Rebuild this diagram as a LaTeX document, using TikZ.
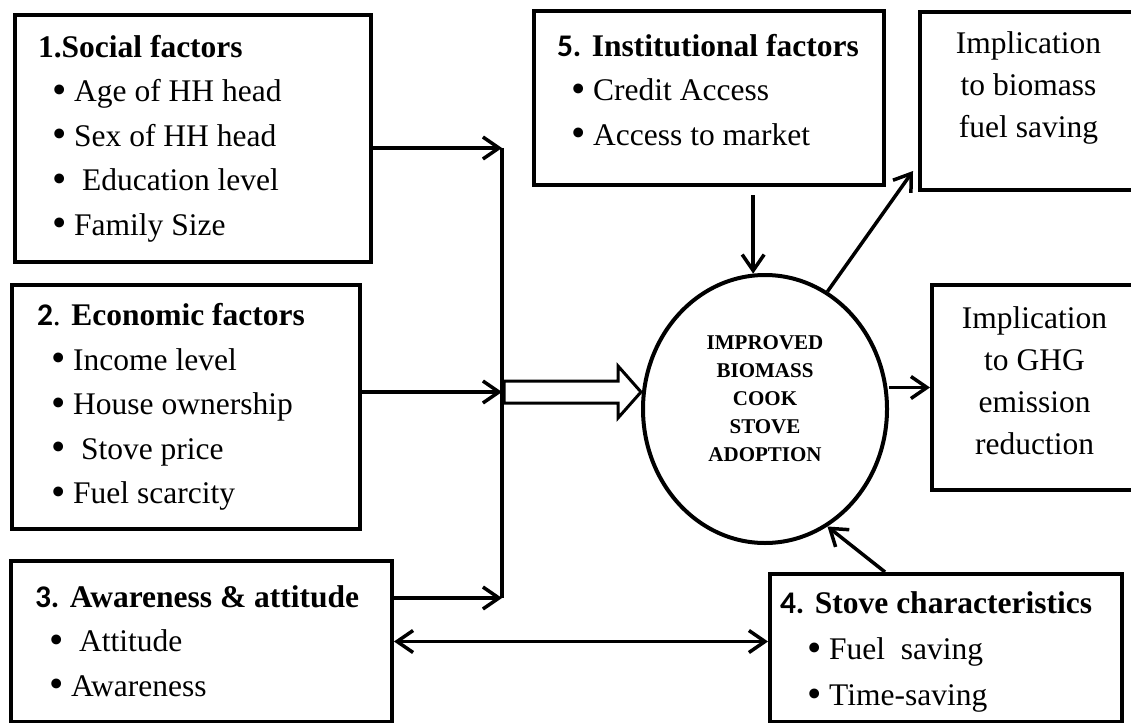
\documentclass[tikz,border=0pt]{standalone}
\usepackage{fontspec}
\usepackage{graphicx}
\setmainfont{Liberation Serif}
\newfontfamily\numfont{Carlito}
\usetikzlibrary{arrows.meta,shapes.geometric,calc}

\newcommand{\itm}[1]{\hspace*{14pt}\raisebox{-1.5pt}{\scalebox{1.3}{\textbullet}}\ #1}
\newcommand{\num}[1]{{\numfont\bfseries #1}}

\begin{document}
\begin{tikzpicture}[x=1pt, y=-1pt,
        >={Straight Barb[length=16pt,width=22pt]},
        factor/.style={draw, rectangle, line width=4pt, anchor=north west,
            align=flush left, inner ysep=0pt,
            font=\fontsize{31.5}{44.5}\selectfont},
        effect/.style={draw, rectangle, line width=4pt, anchor=north west,
            align=center, inner sep=0pt,
            font=\fontsize{31.5}{42}\selectfont},
        link/.style={line width=3.5pt}]
        \useasboundingbox (0,0) rectangle (1131,722);
        \clip (0,0) rectangle (1131,722);

        % factor boxes on the left
        \node[factor, text width=310pt, inner xsep=23pt, minimum height=247pt] (social) at (13,13)
            {\mbox{\textbf{1.Social factors}}\\ \itm{Age of HH head}\\ \itm{Sex of HH head}\\
             \itm{\ Education level}\\ \itm{Family Size}};
        \node[factor, text width=298pt, inner xsep=25pt, minimum height=244pt] (econ) at (10,283)
            {\mbox{\num{2}. \textbf{Economic factors}}\\ \itm{Income level}\\ \itm{House ownership}\\
             \itm{\ Stove price}\\ \itm{Fuel scarcity}};
        \node[factor, text width=333pt, inner xsep=24pt, minimum height=161pt] (aware) at (9,559)
            {\mbox{\num{3.} \textbf{Awareness \& attitude}}\\ \itm{\ Attitude}\\ \itm{Awareness}};

        % top and bottom right
        \node[factor, text width=304pt, inner xsep=23pt, minimum height=174pt, text depth=106pt] (inst) at (532,9)
            {\mbox{\num{5.} \textbf{Institutional factors}}\\ \itm{Credit Access}\\ \itm{Access to market}};
        \node[factor, text width=332pt, inner xsep=10pt, minimum height=148pt,
            font=\fontsize{31.5}{46}\selectfont, text depth=90pt] (stove) at (768,572)
            {\mbox{\num{4.} \textbf{Stove characteristics}}\\ \hspace*{13pt}\itm{Fuel\ \ saving}\\
             \hspace*{13pt}\itm{Time-saving}};

        % implications
        \node[effect, minimum width=217pt, minimum height=178pt, text depth=32pt] (imp1) at (918,10)
            {Implication\\ to biomass\\ fuel saving};
        \node[effect, minimum width=205pt, minimum height=205pt, text depth=14pt] (ghg) at (930,283)
            {Implication\\ to GHG\\ emission\\ reduction};

        % adoption
        \node[draw, ellipse, line width=4pt, inner sep=0pt, minimum width=244pt, minimum height=268pt,
            align=center, font=\fontsize{21}{28}\selectfont\bfseries, text depth=20pt] (adopt) at (765,409)
            {IMPROVED\\BIOMASS\\COOK\\STOVE\\ADOPTION};

        % collecting line
        \coordinate (top) at (502,148);
        \coordinate (mid) at (502,392);
        \coordinate (bot) at (502,598);
        \draw[link, ->] (social.east |- top) -- (top);
        \draw[link, ->] (econ.east |- mid) -- (mid);
        \draw[link, ->] (aware.east |- bot) -- (bot);
        \draw[line width=4pt] (top) -- (bot);

        % hollow arrow into the circle
        \coordinate (tip) at (adopt.west |- mid);
        \draw[line width=3pt, fill=white, line join=miter]
            ($(mid)+(2,-11)$) -- ($(tip)+(-23,-11)$) -- ($(tip)+(-23,-26)$) -- (tip)
            -- ($(tip)+(-23,26)$) -- ($(tip)+(-23,11)$) -- ($(mid)+(2,11)$) -- cycle;

        \draw[link, ->, shorten <=8pt] (inst.south -| adopt.95) -- (adopt.95);
        \draw[link, ->] (adopt.62) -- ($(imp1.south west)+(-5,-21)$);
        \draw[link, ->] (adopt.east |- ghg.west) -- (ghg.west);
        \draw[link, ->] ($(stove.north west)+(117,0)$) -- (adopt.-62);
        \draw[link, <->] (aware.east) -- (aware.east -| stove.west);
\end{tikzpicture}
\end{document}
